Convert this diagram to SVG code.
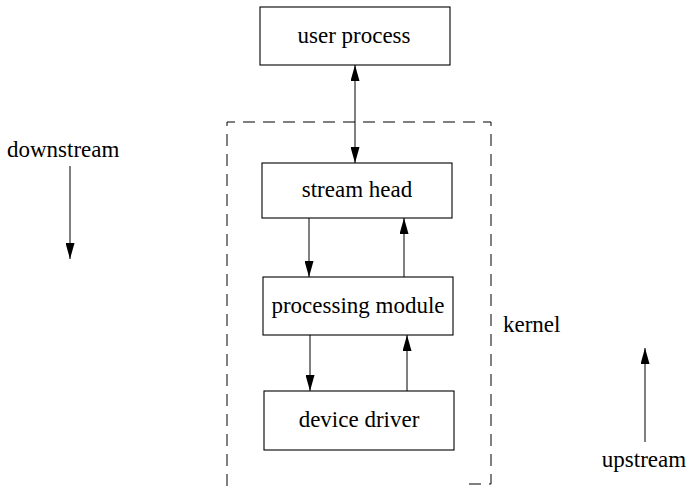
<svg xmlns="http://www.w3.org/2000/svg" width="690" height="486" viewBox="0 0 690 486">
  <style>
    .box { fill: #fff; stroke: #000; stroke-width: 1.1; }
    .lbl { font-family: "Liberation Serif", "Times New Roman", serif; font-size: 23px; fill: #000; }
    .mid { text-anchor: middle; }
    .line { stroke: #000; stroke-width: 1; fill: none; }
    .dash { stroke: #000; stroke-width: 1; fill: none; stroke-dasharray: 12 8; }
  </style>
  <defs>
    <marker id="arr" viewBox="0 0 16 9" refX="16" refY="4.5" markerWidth="16" markerHeight="9" markerUnits="userSpaceOnUse" orient="auto">
      <path d="M0,0 L16,4.5 L0,9 Z" fill="#000"/>
    </marker>
    <marker id="arrStart" viewBox="0 0 16 9" refX="0" refY="4.5" markerWidth="16" markerHeight="9" markerUnits="userSpaceOnUse" orient="auto">
      <path d="M16,0 L0,4.5 L16,9 Z" fill="#000"/>
    </marker>
  </defs>

  <!-- kernel boundary -->
  <g id="kernel">
    <path class="dash" d="M227,486 V122 H491 V484 H465"/>
    <text class="lbl" x="503" y="332">kernel</text>
  </g>

  <!-- connectors -->
  <g id="connectors">
    <line class="line" x1="355" y1="65" x2="355" y2="163" marker-start="url(#arrStart)" marker-end="url(#arr)"/>
    <line class="line" x1="309" y1="218" x2="309" y2="277" marker-end="url(#arr)"/>
    <line class="line" x1="404" y1="277" x2="404" y2="218" marker-end="url(#arr)"/>
    <line class="line" x1="310" y1="335" x2="310" y2="391" marker-end="url(#arr)"/>
    <line class="line" x1="407" y1="391" x2="407" y2="335" marker-end="url(#arr)"/>
    <line class="line" x1="70" y1="166" x2="70" y2="259" marker-end="url(#arr)"/>
    <line class="line" x1="645" y1="442" x2="645" y2="348" marker-end="url(#arr)"/>
  </g>

  <g id="user-process">
    <rect class="box" x="260" y="7" width="190" height="58"/>
    <text class="lbl mid" x="354" y="43">user process</text>
  </g>
  <g id="stream-head">
    <rect class="box" x="262" y="163" width="190" height="55"/>
    <text class="lbl mid" x="357" y="197">stream head</text>
  </g>
  <g id="processing-module">
    <rect class="box" x="263" y="277" width="190" height="58"/>
    <text class="lbl mid" x="358" y="313">processing module</text>
  </g>
  <g id="device-driver">
    <rect class="box" x="264" y="391" width="190" height="59"/>
    <text class="lbl mid" x="359" y="427">device driver</text>
  </g>

  <g id="direction-labels">
    <text class="lbl" x="7" y="157">downstream</text>
    <text class="lbl mid" x="644" y="467">upstream</text>
  </g>
</svg>
